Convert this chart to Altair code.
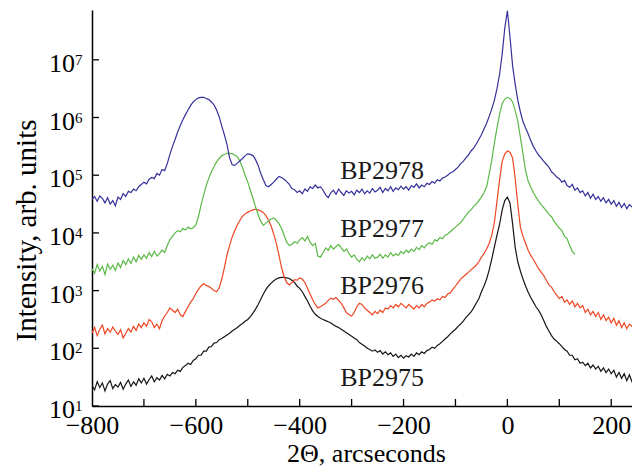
import altair as alt
import pandas as pd

# x grid of the scans (arcseconds), step 5
x_start = -800
x_step = 5

# log10(intensity), one value per x step
bp2978 = [
    4.58, 4.63, 4.55, 4.64, 4.60, 4.52, 4.61, 4.50, 4.56, 4.47,
    4.62, 4.58, 4.68, 4.63, 4.72, 4.70, 4.76, 4.73, 4.80, 4.84,
    4.88, 4.85, 4.93, 4.96, 4.94, 5.03, 5.00, 5.10, 5.08, 5.20,
    5.36, 5.50, 5.62, 5.75, 5.86, 5.96, 6.05, 6.13, 6.21, 6.27,
    6.31, 6.34, 6.35, 6.35, 6.33, 6.31, 6.27, 6.22, 6.13, 6.01,
    5.85, 5.70, 5.53, 5.30, 5.18, 5.17, 5.21, 5.25, 5.29, 5.34,
    5.37, 5.36, 5.34, 5.27, 5.17, 5.03, 4.92, 4.82, 4.80, 4.84,
    4.88, 4.93, 4.98, 4.96, 4.93, 4.89, 4.84, 4.77, 4.75, 4.70,
    4.73, 4.68, 4.76, 4.72, 4.80, 4.77, 4.83, 4.78, 4.80, 4.74,
    4.66, 4.61, 4.70, 4.74, 4.67, 4.76, 4.70, 4.65, 4.73, 4.69,
    4.72, 4.66, 4.74, 4.70, 4.76, 4.68, 4.73, 4.69, 4.77, 4.71,
    4.74, 4.79, 4.70, 4.77, 4.73, 4.80, 4.72, 4.78, 4.75, 4.81,
    4.76, 4.80, 4.74, 4.82, 4.79, 4.85, 4.78, 4.83, 4.80, 4.86,
    4.84, 4.89, 4.86, 4.92, 4.90, 4.95, 4.97, 5.00, 5.04, 5.06,
    5.10, 5.14, 5.20, 5.24, 5.30, 5.35, 5.42, 5.47, 5.54, 5.62,
    5.70, 5.80, 5.90, 6.02, 6.15, 6.30, 6.50, 6.75, 7.10, 7.55,
    7.85, 7.40, 6.90, 6.58, 6.30, 6.10, 5.93, 5.82, 5.72, 5.60,
    5.50, 5.42, 5.35, 5.30, 5.24, 5.19, 5.14, 5.06, 5.02, 4.97,
    4.94, 4.88, 4.91, 4.82, 4.79, 4.84, 4.74, 4.78, 4.70, 4.73,
    4.64, 4.70, 4.60, 4.67, 4.58, 4.63, 4.55, 4.61, 4.52, 4.58,
    4.50, 4.56, 4.46, 4.53, 4.44, 4.51, 4.42, 4.49, 4.45, 4.50,
    4.47,
]

bp2977 = [
    3.38, 3.30, 3.45, 3.34, 3.42, 3.28, 3.46, 3.37, 3.44, 3.35,
    3.48, 3.40, 3.52, 3.45, 3.55, 3.47, 3.58, 3.50, 3.61, 3.54,
    3.62, 3.56, 3.66, 3.59, 3.68, 3.60, 3.64, 3.70, 3.66, 3.78,
    3.88, 3.94, 4.00, 4.04, 4.02, 4.08, 4.05, 4.10, 4.07, 4.09,
    4.14, 4.28, 4.48, 4.66, 4.82, 4.95, 5.06, 5.15, 5.23, 5.29,
    5.34, 5.36, 5.38, 5.38, 5.37, 5.35, 5.32, 5.24, 5.13, 5.00,
    4.88, 4.74, 4.60, 4.45, 4.32, 4.20, 4.13, 4.17, 4.21, 4.24,
    4.26, 4.22, 4.16, 4.08, 3.96, 3.84, 3.78, 3.80, 3.85, 3.82,
    3.88, 3.92, 3.86, 3.94, 3.84, 3.78, 3.82, 3.60, 3.58, 3.66,
    3.74, 3.70, 3.78, 3.72, 3.76, 3.80, 3.74, 3.68, 3.72, 3.64,
    3.58, 3.62, 3.54, 3.50, 3.57, 3.52, 3.60, 3.55, 3.62, 3.56,
    3.58, 3.63, 3.56, 3.62, 3.58, 3.66, 3.60, 3.64, 3.61, 3.68,
    3.64, 3.70, 3.66, 3.72, 3.68, 3.75, 3.71, 3.78, 3.74, 3.80,
    3.83, 3.80, 3.88, 3.86, 3.92, 3.90, 3.96, 3.98, 4.02, 4.06,
    4.10, 4.14, 4.18, 4.24, 4.30, 4.36, 4.40, 4.46, 4.50, 4.56,
    4.62, 4.70, 4.80, 5.02, 5.26, 5.56, 5.82, 6.06, 6.24, 6.32,
    6.35, 6.33, 6.27, 6.12, 5.94, 5.66, 5.38, 5.08, 4.90, 4.79,
    4.70, 4.62, 4.55, 4.49, 4.44, 4.38, 4.32, 4.28, 4.20, 4.14,
    4.08, 4.04, 3.94, 3.90, 3.78, 3.68, 3.63,
]

bp2976 = [
    2.26, 2.36, 2.22, 2.33, 2.40, 2.25, 2.34, 2.28, 2.37, 2.30,
    2.24, 2.32, 2.18, 2.26, 2.34, 2.28, 2.38, 2.31, 2.42, 2.36,
    2.44, 2.38, 2.50, 2.46, 2.36, 2.42, 2.34, 2.48, 2.56, 2.62,
    2.70, 2.66, 2.62, 2.68, 2.58, 2.55, 2.64, 2.72, 2.80, 2.86,
    2.95, 3.02, 3.08, 3.12, 3.09, 3.07, 3.04, 3.00, 2.98, 3.05,
    3.20, 3.40, 3.62, 3.78, 3.93, 4.04, 4.14, 4.22, 4.29, 4.33,
    4.36, 4.38, 4.40, 4.41, 4.40, 4.38, 4.35, 4.30, 4.22, 4.12,
    3.98, 3.82, 3.62, 3.40, 3.24, 3.14, 3.10, 3.14, 3.19, 3.18,
    3.22, 3.20, 3.14, 3.04, 2.94, 2.84, 2.76, 2.70, 2.72, 2.75,
    2.78, 2.83, 2.87, 2.85, 2.88, 2.83, 2.78, 2.70, 2.62, 2.58,
    2.56, 2.62, 2.72, 2.78, 2.76, 2.70, 2.66, 2.62, 2.58, 2.64,
    2.60, 2.66, 2.62, 2.70, 2.68, 2.74, 2.70, 2.76, 2.72, 2.78,
    2.74, 2.70, 2.76, 2.72, 2.68, 2.74, 2.70, 2.76, 2.72, 2.78,
    2.80, 2.84, 2.82, 2.86, 2.84, 2.90, 2.88, 2.94, 2.96, 3.02,
    3.08, 3.14, 3.20, 3.24, 3.28, 3.32, 3.36, 3.40, 3.44, 3.50,
    3.58, 3.64, 3.72, 3.82, 3.96, 4.18, 4.55, 4.92, 5.24, 5.37,
    5.42, 5.40, 5.30, 4.95, 4.50, 4.10, 3.94, 3.82, 3.70, 3.61,
    3.54, 3.46, 3.38, 3.32, 3.26, 3.18, 3.10, 3.06, 2.98, 2.92,
    2.86, 2.90, 2.80, 2.84, 2.76, 2.82, 2.72, 2.78, 2.70, 2.74,
    2.62, 2.68, 2.58, 2.64, 2.55, 2.62, 2.50, 2.58, 2.48, 2.54,
    2.44, 2.52, 2.40, 2.48, 2.36, 2.44, 2.34, 2.42, 2.38, 2.44,
    2.38,
]

bp2975 = [
    1.36, 1.28, 1.42, 1.32, 1.40, 1.26, 1.38, 1.44, 1.30, 1.37,
    1.33, 1.41, 1.29, 1.38, 1.45, 1.34, 1.42, 1.36, 1.47, 1.40,
    1.48, 1.38, 1.46, 1.52, 1.42, 1.49, 1.45, 1.53, 1.47, 1.55,
    1.52, 1.58, 1.56, 1.62, 1.60, 1.67, 1.70, 1.74, 1.72, 1.79,
    1.82, 1.88, 1.88, 1.95, 1.95, 2.02, 2.03, 2.09, 2.10, 2.15,
    2.17, 2.20, 2.23, 2.26, 2.30, 2.33, 2.36, 2.40, 2.43, 2.47,
    2.50, 2.55, 2.61, 2.68, 2.76, 2.85, 2.94, 3.02, 3.08, 3.13,
    3.17, 3.20, 3.22, 3.23, 3.23, 3.22, 3.21, 3.18, 3.14, 3.08,
    3.04, 2.98, 2.90, 2.82, 2.73, 2.65, 2.59, 2.55, 2.52, 2.50,
    2.48, 2.46, 2.44, 2.41, 2.38, 2.36, 2.33, 2.30, 2.27, 2.24,
    2.21, 2.18, 2.15, 2.10, 2.07, 2.04, 2.00, 1.98, 1.95, 1.97,
    1.93, 1.96, 1.90, 1.94, 1.89, 1.92, 1.86, 1.90, 1.84, 1.88,
    1.83, 1.87, 1.85, 1.90, 1.86, 1.92, 1.89, 1.94, 1.91, 1.96,
    1.98, 2.02, 2.00, 2.05, 2.08, 2.12, 2.16, 2.20, 2.25, 2.29,
    2.33, 2.38, 2.42, 2.47, 2.53, 2.58, 2.63, 2.70, 2.78, 2.86,
    2.98, 3.08, 3.20, 3.36, 3.55, 3.76, 3.96, 4.15, 4.40, 4.56,
    4.62, 4.52, 4.16, 3.75, 3.50, 3.34, 3.20, 3.08, 2.97, 2.88,
    2.80, 2.72, 2.66, 2.58, 2.48, 2.38, 2.30, 2.22, 2.16, 2.12,
    2.08, 2.03, 1.98, 1.95, 1.88, 1.88, 1.80, 1.82, 1.74, 1.76,
    1.70, 1.74, 1.66, 1.71, 1.64, 1.69, 1.60, 1.66, 1.58, 1.64,
    1.56, 1.62, 1.50, 1.58, 1.48, 1.56, 1.44, 1.54, 1.42, 1.50,
    1.46,
]

series_names = ["BP2975", "BP2976", "BP2977", "BP2978"]
series_colors = ["#161616", "#ee4623", "#5cb946", "#36319a"]
series_values = [bp2975, bp2976, bp2977, bp2978]

# series labels: (left x in arcsec, log10 intensity of label centre)
label_x = [-322, -322, -322, -322]
label_logy = [1.49, 3.08, 4.07, 5.08]

x_tick_labels = [-800, -600, -400, -200, 0, 200]
x_minor_ticks = [-700, -600, -500, -400, -300, -200, -100, 0, 100, 200]
y_exponents = [1, 2, 3, 4, 5, 6, 7]

FONT = "Liberation Serif"

rows = []
for name, vals in zip(series_names, series_values):
    for i, v in enumerate(vals):
        rows.append({"x": x_start + i * x_step, "I": 10 ** v, "s": name})
df = pd.DataFrame(rows)

lab_df = pd.DataFrame({"s": series_names, "x": label_x,
                       "I": [10 ** v for v in label_logy]})
ytick_df = pd.DataFrame({"I": [10 ** e for e in y_exponents],
                         "e": [str(e) for e in y_exponents]})
xtick_df = pd.DataFrame({"x": x_minor_ticks})

xscale = alt.Scale(domain=[-800, 240], nice=False, zero=False)
yscale = alt.Scale(type="log", domain=[10, 7.3e7], nice=False)
cscale = alt.Scale(domain=series_names, range=series_colors)

xaxis = alt.Axis(values=x_tick_labels, title="2Θ, arcseconds", grid=False,
                 ticks=False, labelPadding=6, labelFlush=False, labelOverlap=False,
                 labelFont=FONT, labelFontSize=26,
                 labelColor="black", titleFont=FONT, titleFontSize=26,
                 titleFontWeight="normal", titleColor="black",
                 titleX=274, titleY=55, titleBaseline="alphabetic",
                 domainColor="black", domainWidth=1.5)
yaxis = alt.Axis(values=[10 ** e for e in y_exponents], title="Intensity, arb. units",
                 grid=False, ticks=False, labels=False,
                 titleFont=FONT, titleFontSize=29, titleFontWeight="normal",
                 titleColor="black", titleAngle=270, titleX=-57, titleY=220,
                 titleAlign="center", titleBaseline="alphabetic",
                 domainColor="black", domainWidth=1.5)

X = alt.X("x:Q", scale=xscale, axis=xaxis)
Y = alt.Y("I:Q", scale=yscale, axis=yaxis)

lines = alt.Chart(df).mark_line(strokeWidth=1.2, clip=True).encode(
    x=X, y=Y,
    color=alt.Color("s:N", scale=cscale, legend=None),
    detail="s:N",
)

labels = alt.Chart(lab_df).mark_text(
    align="left", baseline="middle", font=FONT, fontSize=26, color="#1a1a1a"
).encode(x=X, y=Y, text="s:N")

yticks = alt.Chart(ytick_df).mark_rule(color="black", strokeWidth=1.3).encode(
    x=alt.value(0), x2=alt.value(7), y=Y,
)
xticks = alt.Chart(xtick_df).mark_rule(color="black", strokeWidth=1.3).encode(
    x=X, y=alt.value(396), y2=alt.value(389),
)

ylab_base = alt.Chart(ytick_df).mark_text(
    align="right", baseline="alphabetic", font=FONT, fontSize=26, dy=12,
    color="black", text="10"
).encode(x=alt.value(-17), y=Y)

ylab_exp = alt.Chart(ytick_df).mark_text(
    align="left", baseline="alphabetic", font=FONT, fontSize=15, dy=5,
    color="black"
).encode(x=alt.value(-17), y=Y, text="e:N")

chart = alt.layer(lines, labels, yticks, xticks, ylab_base, ylab_exp).properties(
    width=540, height=396,
    autosize=alt.AutoSizeParams(type="none"),
    padding={"left": 84, "top": 2, "right": 0, "bottom": 61},
).configure_view(stroke=None)

chart.save("out.html", embed_options={"renderer": "svg", "actions": False})
